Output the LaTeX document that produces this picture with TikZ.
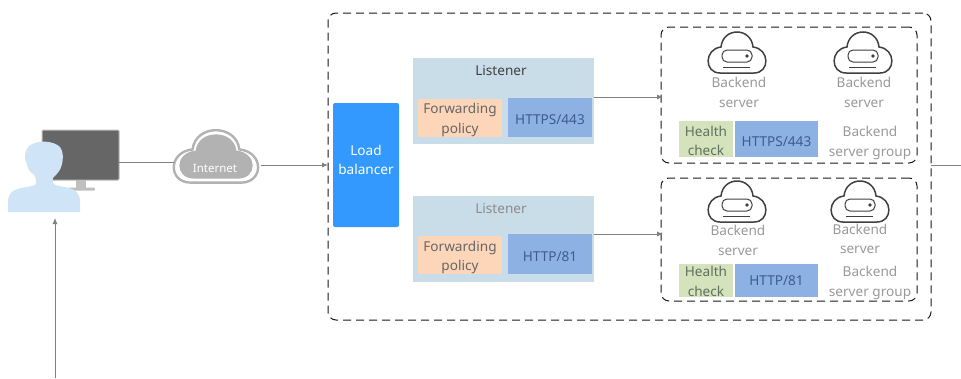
\documentclass[tikz,border=0pt]{standalone}
\usepackage{fontspec}
\setmainfont{Noto Sans}
\usetikzlibrary{arrows.meta}
\definecolor{lbblue}{HTML}{3399FF}
\definecolor{listenerbg}{HTML}{C8DDE8}
\definecolor{policybg}{HTML}{FDD5B9}
\definecolor{portbg}{HTML}{8DB1E3}
\definecolor{porttext}{HTML}{3F5C8C}
\definecolor{healthbg}{HTML}{D5E3BD}
\definecolor{healthtext}{HTML}{5F7060}
\definecolor{usercol}{HTML}{D0E4F8}
\newcommand{\cloudpath}{(-17,20) .. controls (-33,20) and (-33,-4) .. (-16,-6) .. controls (-14,-26) and (14,-26) .. (16,-6) .. controls (33,-4) and (33,20) .. (17,20) -- cycle}
\tikzset{
	servercloud/.pic={
		\draw[line width=1.5pt, draw=black!75, fill=white] \cloudpath;
		\draw[line width=1pt, draw=black!75, rounded corners=5pt] (-15,-3) rectangle (15,9);
		\fill[black!75] (10,3) circle (1.8);
		\draw[line width=1pt, draw=black!75] (-14,14) -- (13,14);
	}
}
\begin{document}
\begin{tikzpicture}[x=1pt, y=-1pt, every node/.style={inner sep=0pt, outer sep=0pt, align=center, font=\fontsize{13.6}{19.5}\selectfont},
					dashbox/.style={draw=black!90, line width=1pt, dash pattern=on 8pt off 5pt, rounded corners=8pt},
					lisbox/.style={fill=listenerbg, minimum width=181pt, minimum height=86pt},
					polbox/.style={fill=policybg, minimum width=84pt, minimum height=38pt},
					pollabel/.style={text=black!60},
					portbox/.style={fill=portbg, text=porttext, minimum width=84pt, minimum height=39pt},
					hcbox/.style={fill=healthbg, minimum width=54pt},
					hclabel/.style={text=healthtext},
					srvlabel/.style={text=black!40},
					lowtext/.style={execute at begin node=\rule{0pt}{15pt}},
					link/.style={draw=black!50, line width=0.9pt},
					arrow/.style={link, -{Latex[length=6pt,width=5pt]}}]
\useasboundingbox (0,0) rectangle (961,378);
\node[dashbox, minimum width=603pt, minimum height=307pt] (outer) at (629.5,166.5) {};
\node[dashbox, minimum width=256pt, minimum height=136pt] (group1) at (789,95) {};
\node[dashbox, minimum width=256pt, minimum height=123pt] (group2) at (789,239.5) {};

\node[fill=lbblue, rounded corners=2pt, minimum width=66pt, minimum height=124pt] (lb) at (366,165) {};
\node[text=white] (lblabel) at (366,160) {Load\\balancer};

\node[lisbox] (listener1) at (503.5,101) {};
\node[text=black!75] (listener1label) at (501,71) {Listener};
\node[polbox] (policy1) at (460,118) {};
\node[pollabel] (policy1label) at (460,120) {Forwarding\\policy};
\node[portbox, lowtext] (port1) at (550,117.5) {HTTPS/443};

\node[lisbox] (listener2) at (503.5,239) {};
\node[text=black!45] (listener2label) at (501,209) {Listener};
\node[polbox] (policy2) at (460,254.5) {};
\node[pollabel] (policy2label) at (460,257.5) {Forwarding\\policy};
\node[portbox, lowtext, minimum height=40pt] (port2) at (550,254) {HTTP/81};

\pic (srv1) at (737,53) {servercloud};
\pic (srv2) at (863,53) {servercloud};
\pic (srv3) at (737,202) {servercloud};
\pic (srv4) at (860,202) {servercloud};
\node[srvlabel] (srv1label) at (739,92.5) {Backend\\server};
\node[srvlabel] (srv2label) at (864,92.5) {Backend\\server};
\node[srvlabel] (srv3label) at (738,240.5) {Backend\\server};
\node[srvlabel] (srv4label) at (860,239) {Backend\\server};

\node[hcbox, minimum height=36pt] (health1) at (706,139) {};
\node[hclabel] (health1label) at (706,141) {Health\\check};
\node[portbox, lowtext, minimum width=83pt, minimum height=36pt] (port3) at (776.5,139) {HTTPS/443};
\node[srvlabel] (group1label) at (870,143) {Backend\\server group};
\node[hcbox, minimum height=33pt] (health2) at (706,280.5) {};
\node[hclabel] (health2label) at (706,281.5) {Health\\check};
\node[portbox, minimum width=83pt, minimum height=33pt] (port4) at (776.5,280.5) {HTTP/81};
\node[srvlabel] (group2label) at (870,283) {Backend\\server group};

\node[fill=black!60, draw=black!25, line width=1pt, rounded corners=1pt, minimum width=77pt, minimum height=50pt] (monitor) at (80.5,155) {};
\fill[black!25] (76,180) rectangle (86,188);
\fill[black!25, rounded corners=1pt] (68,187.5) rectangle (95,190.5);
\node[minimum width=72pt, minimum height=70pt] (user) at (44,177) {};
\fill[usercol] (8,212) -- (8,202) .. controls (8,186) and (24,189) .. (35,185) .. controls (37,182) and (36,178) .. (34,175) .. controls (30,172) and (27,168) .. (27,164) .. controls (23,158) and (25,150) .. (29,146) .. controls (36,140) and (53,140) .. (60,147) .. controls (64,152) and (63,160) .. (62,164) .. controls (61,170) and (57,174) .. (53,178) .. controls (52,182) and (53,184) .. (55,185) .. controls (65,188) and (80,186) .. (80,202) -- (80,212) -- cycle;

\node[minimum width=84pt, minimum height=52pt] (internet) at (216,157) {};
\draw[line width=2.4pt, draw=black!30, fill=white, xscale=1.46, yscale=1.28, shift={(147.9,122.7)}] \cloudpath;
\fill[black!30, xscale=1.27, yscale=1.08, shift={(170.1,145.4)}] \cloudpath;
\node[text=white, font=\fontsize{11.5}{14}\selectfont] (internetlabel) at (215,168) {Internet};

\coordinate (client) at (55,378);
\coordinate (stub) at (961,165);
\draw[link] ([yshift=-7pt]monitor.east) -- ([yshift=-5pt]internet.west);
\draw[arrow] ([xshift=3pt,yshift=-8pt]internet.east) -- ([yshift=-8pt]internet.east -| outer.west);
\draw[arrow, shorten >=-2pt] ([yshift=4pt]listener1.east) -- ([yshift=4pt]listener1.east -| group1.west);
\draw[arrow, shorten >=-2pt] ([yshift=5pt]listener2.east) -- ([yshift=5pt]listener2.east -| group2.west);
\draw[arrow, shorten >=6pt] (client) -- (client |- user.south);
\draw[link] (outer.east |- stub) -- (stub);
\end{tikzpicture}
\end{document}
